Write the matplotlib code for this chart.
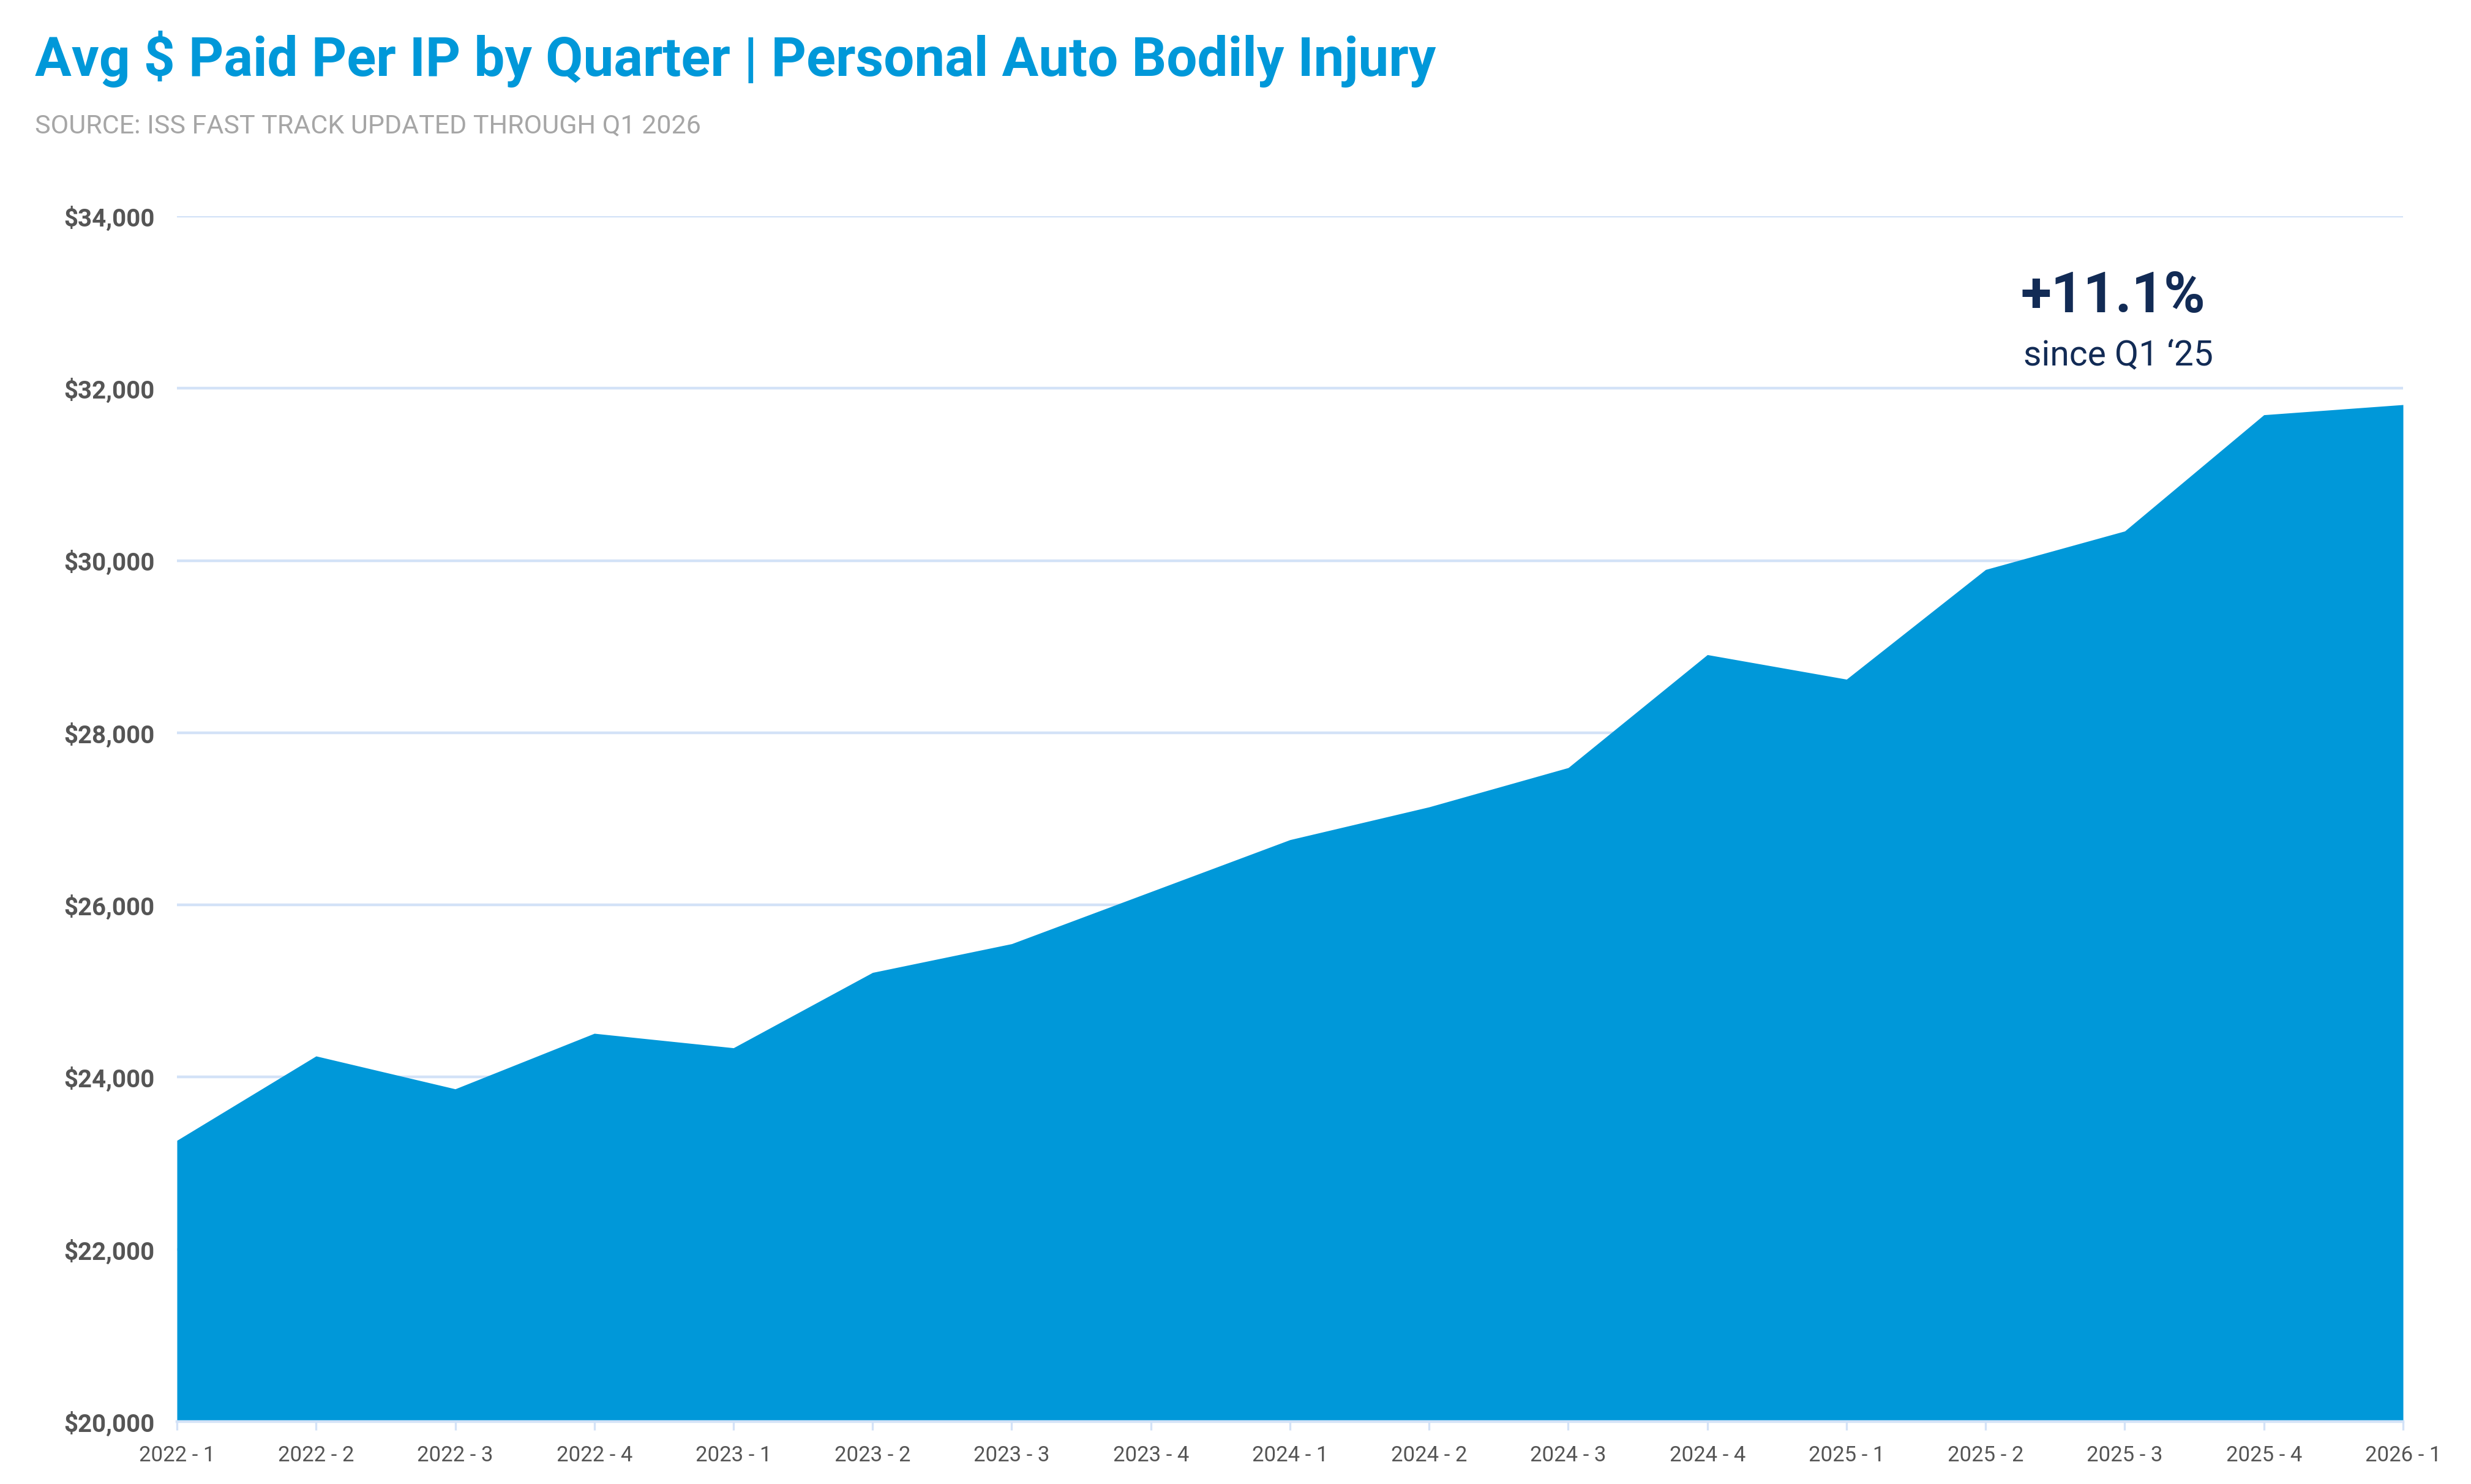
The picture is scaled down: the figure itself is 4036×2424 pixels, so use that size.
import matplotlib
matplotlib.use("Agg")
import numpy as np
from matplotlib import pyplot as plt
from matplotlib.ticker import FuncFormatter

# Quarter labels and average paid per IP
quarters = ["2022 - 1", "2022 - 2", "2022 - 3", "2022 - 4",
            "2023 - 1", "2023 - 2", "2023 - 3", "2023 - 4",
            "2024 - 1", "2024 - 2", "2024 - 3", "2024 - 4",
            "2025 - 1", "2025 - 2", "2025 - 3", "2025 - 4",
            "2026 - 1"]
avg_paid = [23265, 24245, 23863, 24508,
            24340, 25215, 25549, 26153,
            26757, 27138, 27594, 28906,
            28621, 29895, 30342, 31692,
            31810]
y_ticks = [20000, 22000, 24000, 26000, 28000, 30000, 32000, 34000]

title = "Avg $ Paid Per IP by Quarter | Personal Auto Bodily Injury"
subtitle = "SOURCE: ISS FAST TRACK UPDATED THROUGH Q1 2026"
change_text = "+11.1%"
change_note = "since Q1 \u201825"

BLUE = "#0098d9"
NAVY = "#122b55"
GRID = "#d3e2f7"
LABEL = "#555555"

plt.rcParams['font.family'] = ['Roboto', 'DejaVu Sans']

W, H, DPI = 4037, 2424, 200
fig = plt.figure(figsize=(W / DPI, H / DPI), dpi=DPI)
ax = fig.add_axes([289 / W, 1 - 2322 / H, (3925 - 289) / W, (2322 - 353) / H])

x = np.arange(len(quarters))
ax.fill_between(x, avg_paid, y_ticks[0], color=BLUE, lw=0, zorder=3)

ax.set_xlim(0, len(quarters) - 1)
ax.set_ylim(y_ticks[0], y_ticks[-1])
ax.set_yticks(y_ticks)
ax.yaxis.set_major_formatter(FuncFormatter(lambda v, p: "${:,.0f}".format(v)))
ax.set_xticks(x)
ax.set_xticklabels(quarters)

ax.grid(axis='y', color=GRID, lw=1.6, zorder=0)
ax.set_axisbelow(True)
for s in ['top', 'right', 'left']:
    ax.spines[s].set_visible(False)
ax.spines['bottom'].set_color(GRID)
ax.spines['bottom'].set_linewidth(1.6)
ax.spines['bottom'].set_zorder(4)

ax.tick_params(axis='y', length=0, pad=13, labelsize=14.5, labelcolor=LABEL)
ax.tick_params(axis='x', length=5, width=1.2, color=GRID, pad=9,
               labelsize=12.5, labelcolor=LABEL)
for lab in ax.get_yticklabels():
    lab.set_fontweight('bold')

fig.text(57 / W, 1 - 124 / H, title, color=BLUE, fontsize=32,
         fontweight='bold', va='baseline', ha='left')
fig.text(57 / W, 1 - 217 / H, subtitle, color="#a6a6a6", fontsize=15.5,
         va='baseline', ha='left')

fig.text(3301 / W, 1 - 510 / H, change_text, color=NAVY, fontsize=33,
         fontweight='bold', va='baseline', ha='left')
fig.text(3305 / W, 1 - 597 / H, change_note, color=NAVY, fontsize=20.5,
         va='baseline', ha='left')

fig.savefig("out.png", dpi=DPI)
